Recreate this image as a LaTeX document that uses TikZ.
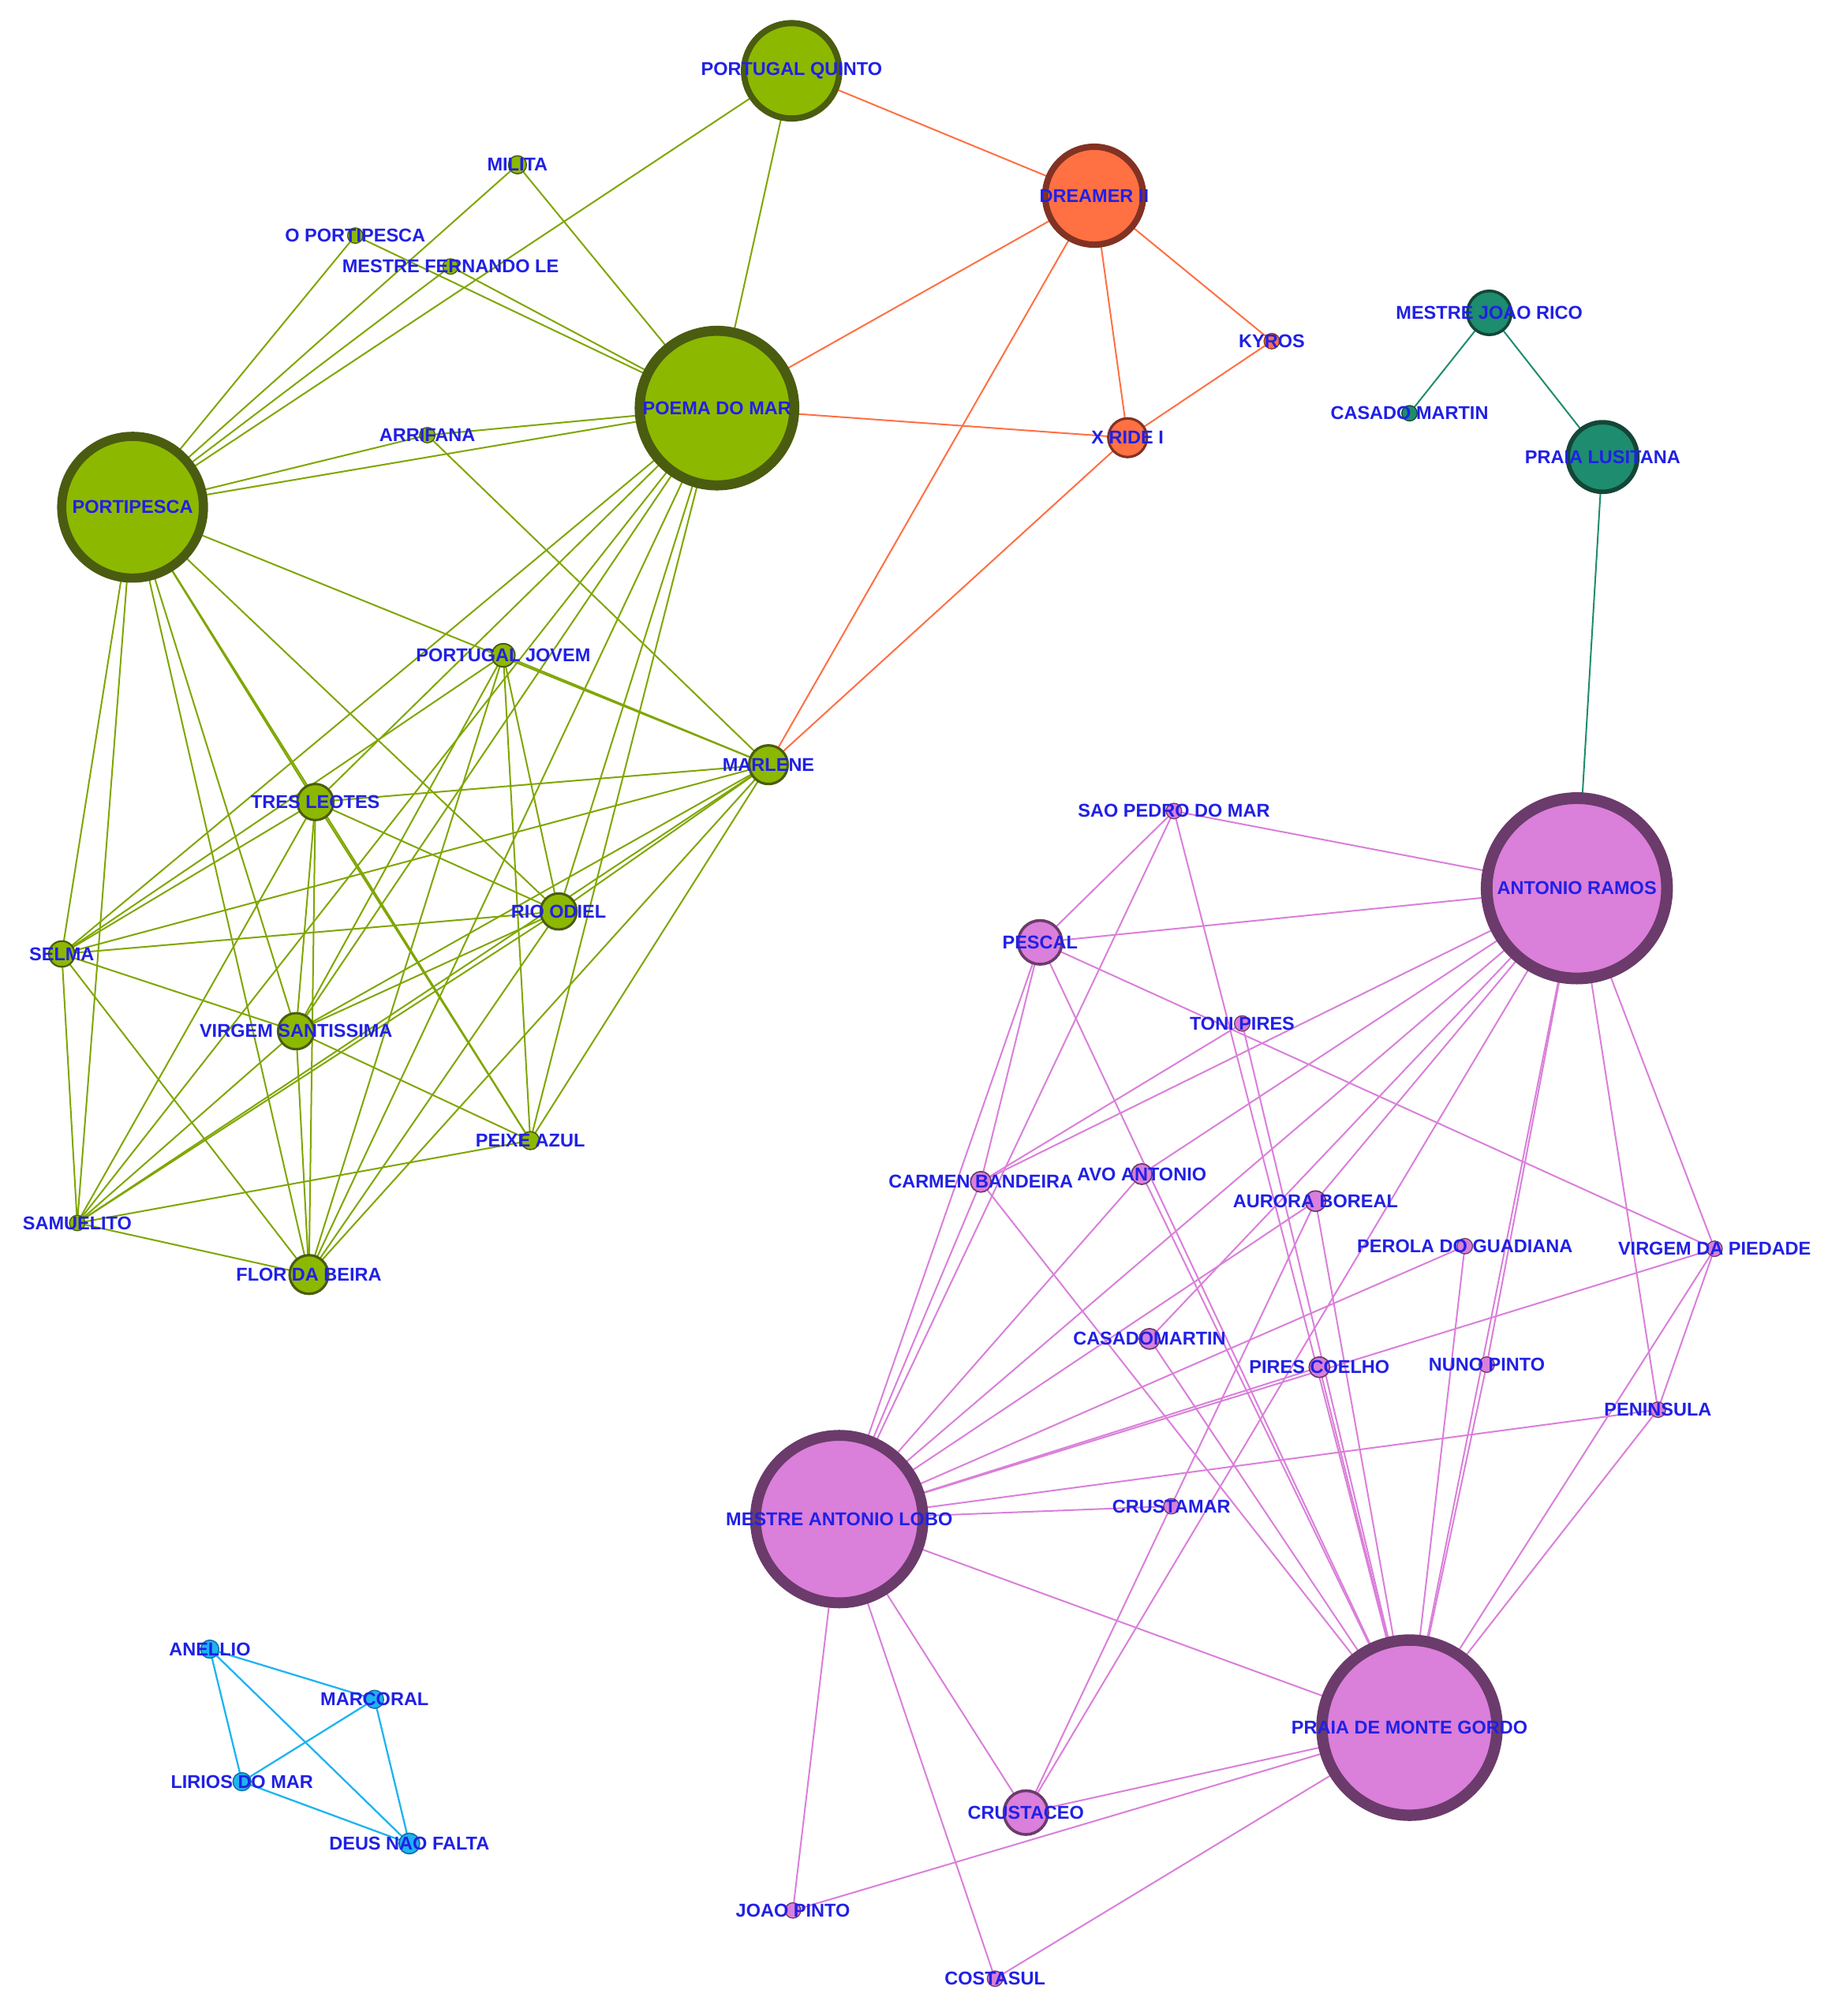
\documentclass[tikz,border=0pt]{standalone}
\usepackage{fontspec}
\setmainfont{Liberation Sans}
\usetikzlibrary{backgrounds}

\definecolor{gfill}{RGB}{141,184,0}
\definecolor{gline}{RGB}{74,92,16}
\definecolor{ofill}{RGB}{255,112,67}
\definecolor{oline}{RGB}{130,50,35}
\definecolor{tfill}{RGB}{30,140,110}
\definecolor{tline}{RGB}{20,70,55}
\definecolor{pfill}{RGB}{218,127,218}
\definecolor{pline}{RGB}{107,59,107}
\definecolor{bfill}{RGB}{30,180,240}
\definecolor{bline}{RGB}{20,110,170}
\definecolor{txt}{RGB}{32,32,230}

\tikzset{
  vtx/.style={circle,inner sep=0pt,outer sep=0pt},
  gn/.style={vtx,fill=gfill,draw=gline},
  on/.style={vtx,fill=ofill,draw=oline},
  tn/.style={vtx,fill=tfill,draw=tline},
  pn/.style={vtx,fill=pfill,draw=pline},
  bn/.style={vtx,fill=bfill,draw=bline},
  lbl/.style={font=\fontsize{4.1}{5}\selectfont\bfseries,text=txt},
  ge/.style={draw=gfill!90!black,line width=0.35pt},
  oe/.style={draw=ofill,line width=0.35pt},
  te/.style={draw=tfill,line width=0.35pt},
  pe/.style={draw=pfill,line width=0.35pt},
  be/.style={draw=bfill,line width=0.4pt}
}

% name, x, y, radius, style, label
\newcommand{\vnode}[6]{%
  \pgfmathsetmacro{\bw}{max(0.8,#4*0.13)}
  \node[#5,minimum size=#4*0.02cm,line width=\bw*0.01cm] (#1) at (#2,#3) {};
  \node[lbl] at (#1) {#6};
}

\begin{document}
\begin{tikzpicture}[x=0.01cm,y=-0.01cm]
\useasboundingbox (0,0) rectangle (1420,1566);

% green cluster
\vnode{PQ}{615}{55}{37}{gn}{PORTUGAL QUINTO}
\vnode{MIL}{402}{128}{7}{gn}{MILITA}
\vnode{OP}{276}{183}{6}{gn}{O PORTIPESCA}
\vnode{MFL}{350}{207}{6}{gn}{MESTRE FERNANDO LE}
\vnode{PM}{557}{317}{60}{gn}{POEMA DO MAR}
\vnode{ARR}{332}{338}{6}{gn}{ARRIFANA}
\vnode{PORT}{103}{394}{55}{gn}{PORTIPESCA}
\vnode{PJ}{391}{509}{9}{gn}{PORTUGAL JOVEM}
\vnode{MAR}{597}{594}{15}{gn}{MARLENE}
\vnode{TL}{245}{623}{14}{gn}{TRES LEOTES}
\vnode{RO}{434}{708}{14}{gn}{RIO ODIEL}
\vnode{SEL}{48}{741}{10}{gn}{SELMA}
\vnode{VS}{230}{801}{14}{gn}{VIRGEM SANTISSIMA}
\vnode{PA}{412}{886}{7}{gn}{PEIXE AZUL}
\vnode{SAM}{60}{950}{6}{gn}{SAMUELITO}
\vnode{FB}{240}{990}{15}{gn}{FLOR DA BEIRA}

% orange cluster
\vnode{DR}{850}{152}{38}{on}{DREAMER II}
\vnode{KY}{988}{265}{6}{on}{KYROS}
\vnode{XR}{876}{340}{15}{on}{X RIDE I}

% teal cluster
\vnode{MJR}{1157}{243}{17}{tn}{MESTRE JOAO RICO}
\vnode{CMT}{1095}{321}{6}{tn}{CASADO MARTIN}
\vnode{PL}{1245}{355}{27}{tn}{PRAIA LUSITANA}

% pink cluster
\vnode{SPM}{912}{630}{6}{pn}{SAO PEDRO DO MAR}
\vnode{AR}{1225}{690}{70}{pn}{ANTONIO RAMOS}
\vnode{PES}{808}{732}{17}{pn}{PESCAL}
\vnode{TP}{965}{795}{6}{pn}{TONI PIRES}
\vnode{CB}{762}{918}{8}{pn}{CARMEN BANDEIRA}
\vnode{AA}{887}{912}{8}{pn}{AVO ANTONIO}
\vnode{AB}{1022}{933}{8}{pn}{AURORA BOREAL}
\vnode{PDG}{1138}{968}{6}{pn}{PEROLA DO GUADIANA}
\vnode{VDP}{1332}{970}{6}{pn}{VIRGEM DA PIEDADE}
\vnode{CDM}{893}{1040}{8}{pn}{CASADOMARTIN}
\vnode{PC}{1025}{1062}{8}{pn}{PIRES COELHO}
\vnode{NP}{1155}{1060}{6}{pn}{NUNO PINTO}
\vnode{PEN}{1288}{1095}{6}{pn}{PENINSULA}
\vnode{MAL}{652}{1180}{65}{pn}{MESTRE ANTONIO LOBO}
\vnode{CRM}{910}{1170}{6}{pn}{CRUSTAMAR}
\vnode{PMG}{1095}{1342}{68}{pn}{PRAIA DE MONTE GORDO}
\vnode{CRU}{797}{1408}{17}{pn}{CRUSTACEO}
\vnode{JP}{616}{1484}{6}{pn}{JOAO PINTO}
\vnode{CS}{773}{1537}{6}{pn}{COSTASUL}

% blue cluster
\vnode{AN}{163}{1281}{7}{bn}{ANELLIO}
\vnode{MC}{291}{1320}{7}{bn}{MARCORAL}
\vnode{LDM}{188}{1384}{7}{bn}{LIRIOS DO MAR}
\vnode{DNF}{318}{1432}{8}{bn}{DEUS NAO FALTA}

\begin{pgfonlayer}{background}
\foreach \a/\b in {PQ/PM,PQ/PORT,MIL/PORT,MIL/PM,OP/PORT,OP/PM,MFL/PORT,MFL/PM,
  PORT/PM,ARR/PORT,ARR/PM,ARR/MAR,PORT/MAR,PORT/TL,PORT/SEL,PORT/VS,PORT/FB,
  PORT/RO,PORT/PA,PORT/SAM,PM/TL,PM/SEL,PM/VS,PM/FB,PM/RO,PM/PA,PM/SAM,
  PJ/VS,PJ/FB,PJ/RO,PJ/PA,PJ/SEL,PJ/MAR,MAR/TL,MAR/SEL,MAR/VS,MAR/FB,MAR/SAM,
  MAR/PA,MAR/RO,TL/RO,TL/SEL,TL/VS,TL/FB,TL/PA,TL/SAM,RO/SEL,RO/VS,RO/FB,
  RO/SAM,SEL/VS,SEL/SAM,SEL/FB,VS/FB,VS/PA,VS/SAM,PA/SAM,SAM/FB}
  \draw[ge] (\a) -- (\b);
\foreach \a/\b in {PQ/DR,DR/PM,DR/MAR,DR/KY,DR/XR,XR/KY,XR/MAR,XR/PM}
  \draw[oe] (\a) -- (\b);
\foreach \a/\b in {MJR/CMT,MJR/PL,PL/AR}
  \draw[te] (\a) -- (\b);
\foreach \a/\b in {AR/MAL,AR/CB,AR/CDM,AR/AA,AR/CRU,AR/PMG,AR/PEN,AR/VDP,AR/NP,
  AR/PES,AR/SPM,AR/AB,SPM/PES,SPM/MAL,SPM/PMG,PES/MAL,PES/VDP,PES/PMG,PES/CB,
  TP/CB,TP/PMG,MAL/AA,MAL/AB,MAL/PDG,MAL/VDP,MAL/PEN,MAL/CRM,MAL/PMG,MAL/CRU,
  MAL/JP,MAL/CS,MAL/CB,MAL/PC,CB/PMG,AA/PMG,CDM/PMG,PC/PMG,AB/PMG,AB/CRU,
  NP/PMG,PDG/PMG,VDP/PMG,VDP/PEN,PEN/PMG,CRU/PMG,JP/PMG,CS/PMG}
  \draw[pe] (\a) -- (\b);
\foreach \a/\b in {AN/MC,AN/LDM,AN/DNF,MC/LDM,MC/DNF,LDM/DNF}
  \draw[be] (\a) -- (\b);
\end{pgfonlayer}

\end{tikzpicture}
\end{document}
